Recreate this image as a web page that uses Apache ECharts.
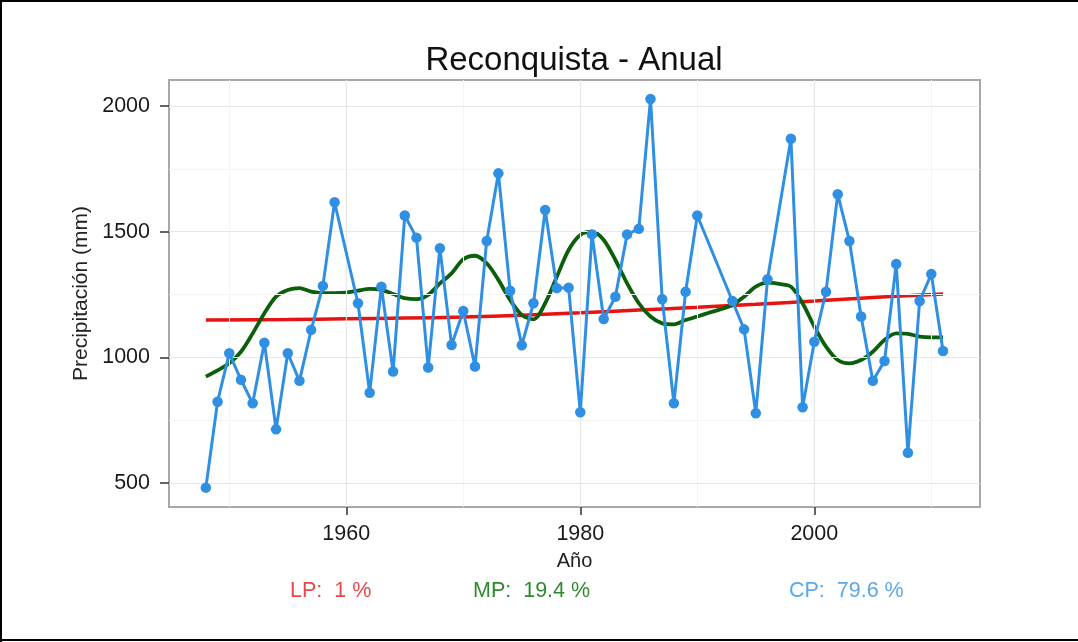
<!DOCTYPE html>
<html>
<head>
<meta charset="utf-8">
<script src="https://cdn.jsdelivr.net/npm/echarts@6/dist/echarts.min.js"></script>
<style>
  html, body { margin: 0; padding: 0; background: #fff; }
  #chart { width: 1078px; height: 642px; }
</style>
</head>
<body>
<div id="chart"></div>
<script>
// ---- data ----
const years = [1948,1949,1950,1951,1952,1953,1954,1955,1956,1957,1958,1959,1961,1962,1963,1964,1965,1966,1967,1968,1969,1970,1971,1972,1973,1974,1975,1976,1977,1978,1979,1980,1981,1982,1983,1984,1985,1986,1987,1988,1989,1990,1993,1994,1995,1996,1998,1999,2000,2001,2002,2003,2004,2005,2006,2007,2008,2009,2010,2011];
const precip = [481,823,1016,910,817,1058,713,1016,906,1109,1284,1617,1215,859,1281,943,1564,1476,959,1434,1049,1184,963,1463,1732,1265,1048,1215,1586,1275,1277,781,1489,1152,1241,1489,1511,2028,1231,817,1261,1564,1224,1111,777,1310,1870,801,1062,1261,1649,1463,1162,906,985,1371,620,1224,1331,1025];

const mpYears = [1948,1949,1950,1951,1952,1953,1954,1955,1956,1957,1958,1959,1960,1961,1962,1963,1964,1965,1966,1967,1968,1969,1970,1971,1972,1973,1974,1975,1976,1977,1978,1979,1980,1981,1982,1983,1984,1985,1986,1987,1988,1989,1990,1991,1992,1993,1994,1995,1996,1997,1998,1999,2000,2001,2002,2003,2004,2005,2006,2007,2008,2009,2010,2011];
const mpValues = [923,948,976,1022,1095,1175,1241,1268,1275,1261,1255,1255,1257,1265,1272,1268,1252,1235,1231,1248,1294,1334,1390,1404,1374,1308,1228,1168,1151,1215,1321,1427,1487,1500,1467,1387,1294,1215,1162,1135,1131,1148,1162,1177,1191,1208,1241,1281,1297,1292,1281,1215,1122,1042,989,976,989,1022,1069,1095,1093,1082,1079,1079];

const lpYears = [1948,1955,1960,1965,1970,1975,1980,1985,1990,1995,2000,2005,2011];
const lpValues = [1148,1150,1153,1156,1160,1167,1177,1188,1199,1211,1224,1238,1252];

const xMajorTicks = [1960,1980,2000];
const xMinorTicks = [1950,1970,1990,2010];
const yMajorTicks = [500,1000,1500,2000];
const yMinorTicks = [750,1250,1750];

const chartTitle = 'Reconquista - Anual';
const xTitle = 'Año';
const yTitle = 'Precipitación (mm)';
const notes = [
  { text: 'LP:  1 %', color: '#e8484a' },
  { text: 'MP:  19.4 %', color: '#2f8a2f' },
  { text: 'CP:  79.6 %', color: '#5aa8e8' }
];

const FONT = 'Liberation Sans, Arial, sans-serif';
const pair = (xs, ys) => xs.map((x, i) => [x, ys[i]]);

const gridLineData = [
  ...xMinorTicks.map(v => ({ xAxis: v, lineStyle: { color: '#f4f4f4', width: 1, type: 'solid' } })),
  ...yMinorTicks.map(v => ({ yAxis: v, lineStyle: { color: '#f4f4f4', width: 1, type: 'solid' } })),
  ...xMajorTicks.map(v => ({ xAxis: v, lineStyle: { color: '#e7e7e7', width: 1.2, type: 'solid' } })),
  ...yMajorTicks.map(v => ({ yAxis: v, lineStyle: { color: '#e7e7e7', width: 1.2, type: 'solid' } }))
];

const chart = echarts.init(document.getElementById('chart'), null, { renderer: 'canvas' });
chart.setOption({
  backgroundColor: '#ffffff',
  animation: false,
  textStyle: { fontFamily: FONT },
  title: {
    text: chartTitle,
    left: 569, top: 39, textAlign: 'center',
    textStyle: { fontFamily: FONT, fontSize: 33, fontWeight: 'normal', color: '#111' }
  },
  grid: {
    left: 169, right: 98, top: 80, bottom: 135,
    show: true, borderColor: '#a8a8a8', borderWidth: 2, backgroundColor: '#fff'
  },
  xAxis: {
    type: 'value', min: 1944.85, max: 2014.16,
    name: xTitle, nameLocation: 'middle', nameGap: 44,
    nameTextStyle: { fontFamily: FONT, fontSize: 20, color: '#222' },
    axisLine: { show: false },
    splitLine: { show: false },
    axisTick: { show: true, customValues: xMajorTicks, length: 8, lineStyle: { color: '#333', width: 1.5 } },
    axisLabel: { customValues: xMajorTicks, formatter: v => String(v), fontFamily: FONT, fontSize: 21.5, color: '#1a1a1a', margin: 16 }
  },
  yAxis: {
    type: 'value', min: 404, max: 2103.5,
    name: yTitle, nameLocation: 'middle', nameGap: 71, nameRotate: 90,
    nameTextStyle: { fontFamily: FONT, fontSize: 21, color: '#222' },
    axisLine: { show: false },
    splitLine: { show: false },
    axisTick: { show: true, customValues: yMajorTicks, length: 9, lineStyle: { color: '#333', width: 1.5 } },
    axisLabel: { customValues: yMajorTicks, formatter: v => String(v), fontFamily: FONT, fontSize: 21.5, color: '#1a1a1a', margin: 19 }
  },
  series: [
    {
      type: 'line', name: 'grid', data: [], silent: true, z: 1,
      markLine: { silent: true, symbol: 'none', label: { show: false }, animation: false, data: gridLineData }
    },
    {
      type: 'line', name: 'LP', data: pair(lpYears, lpValues), smooth: 0.4,
      showSymbol: false, z: 3,
      lineStyle: { color: '#e8120e', width: 3.5 }
    },
    {
      type: 'line', name: 'MP', data: pair(mpYears, mpValues), smooth: 0.3,
      showSymbol: false, z: 4,
      lineStyle: { color: '#0b5f0b', width: 3.8 }
    },
    {
      type: 'line', name: 'CP', data: pair(years, precip),
      symbol: 'circle', symbolSize: 10.5, showSymbol: true, z: 5,
      lineStyle: { color: '#2f8fe3', width: 3 },
      itemStyle: { color: '#2f8fe3' }
    }
  ],
  graphic: [
    { type: 'text', left: 290, top: 580, style: { text: notes[0].text, fill: notes[0].color, font: '21.5px ' + FONT } },
    { type: 'text', left: 473, top: 580, style: { text: notes[1].text, fill: notes[1].color, font: '21.5px ' + FONT } },
    { type: 'text', left: 789, top: 580, style: { text: notes[2].text, fill: notes[2].color, font: '21.5px ' + FONT } },
    { type: 'rect', left: 0, top: 0, shape: { width: 1078, height: 2 }, style: { fill: '#000' } },
    { type: 'rect', left: 0, top: 0, shape: { width: 2, height: 642 }, style: { fill: '#000' } },
    { type: 'rect', left: 0, top: 639, shape: { width: 1078, height: 2 }, style: { fill: '#000' } }
  ]
});
</script>
</body>
</html>
